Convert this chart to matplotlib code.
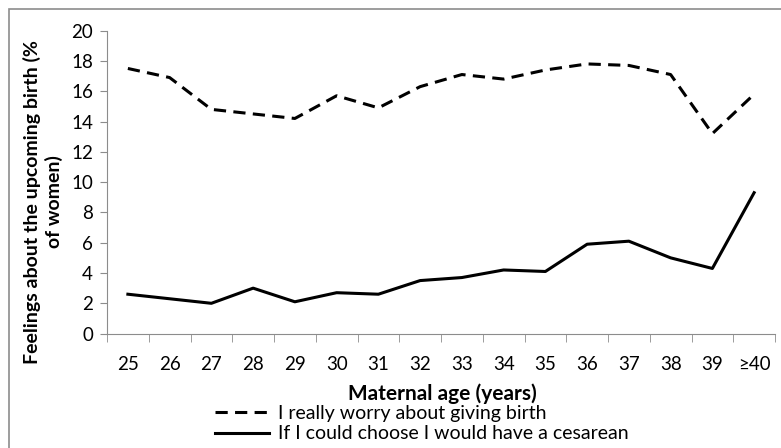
import numpy as np
import matplotlib
matplotlib.use("Agg")
import matplotlib.pyplot as plt
from matplotlib.patches import Rectangle

plt.rcParams['font.family'] = ['Lato', 'DejaVu Sans']

# data
ages = ['25', '26', '27', '28', '29', '30', '31', '32', '33', '34', '35', '36', '37', '38', '39', '\u226540']
worry = [17.5, 16.9, 14.8, 14.5, 14.2, 15.7, 14.9, 16.3, 17.1, 16.8, 17.4, 17.8, 17.7, 17.1, 13.2, 15.8]
cesarean = [2.6, 2.3, 2.0, 3.0, 2.1, 2.7, 2.6, 3.5, 3.7, 4.2, 4.1, 5.9, 6.1, 5.0, 4.3, 9.3]

fig = plt.figure(figsize=(7.81, 4.48), dpi=100)
# outer chart border (excel style)
fig.patches.append(Rectangle((9/781, -0.1), 1.2, 1 - 9/448 + 0.1, transform=fig.transFigure,
                             fill=False, edgecolor='#8c8c8c', linewidth=1.2))

ax = fig.add_axes([107/781, 1 - 333.6/448, 668/781, 303/448])
x = np.arange(len(ages))
l1, = ax.plot(x, worry, color='black', lw=2.2, ls=(0, (4, 2.4)), label='I really worry about giving birth')
l2, = ax.plot(x, cesarean, color='black', lw=2.2, label='If I could choose I would have a cesarean')

ax.set_xlim(-0.5, len(ages) - 0.5)
ax.set_ylim(0, 20)
ax.set_yticks(range(0, 21, 2))
ax.set_xticks(x)
ax.set_xticklabels(ages)
ax.set_xticks(np.arange(-0.5, len(ages), 1), minor=True)
ax.tick_params(axis='x', which='major', length=0, pad=16, labelsize=13.5)
ax.tick_params(axis='x', which='minor', length=6, color='#8c8c8c', direction='out')
ax.tick_params(axis='y', length=5, color='#8c8c8c', labelsize=13.5, pad=5)

for s in ['top', 'right']:
    ax.spines[s].set_visible(False)
for s in ['left', 'bottom']:
    ax.spines[s].set_color('#8c8c8c')

fig.text(442/781, 1 - 394/448, 'Maternal age (years)', ha='center', va='center',
         fontsize=15, fontweight='bold')
fig.text(43/781, 1 - 202/448, 'Feelings about the upcoming birth (%\nof women)', ha='center', va='center',
         rotation=90, fontsize=14, fontweight='bold', linespacing=1.3)

fig.legend(handles=[l1, l2], loc='center left', bbox_to_anchor=(215/781, 1 - 423.5/448),
           frameon=False, fontsize=14, handlelength=2.8, handletextpad=0.45,
           labelspacing=0.2, borderpad=0, borderaxespad=0)

fig.savefig('out.png', dpi=100)
